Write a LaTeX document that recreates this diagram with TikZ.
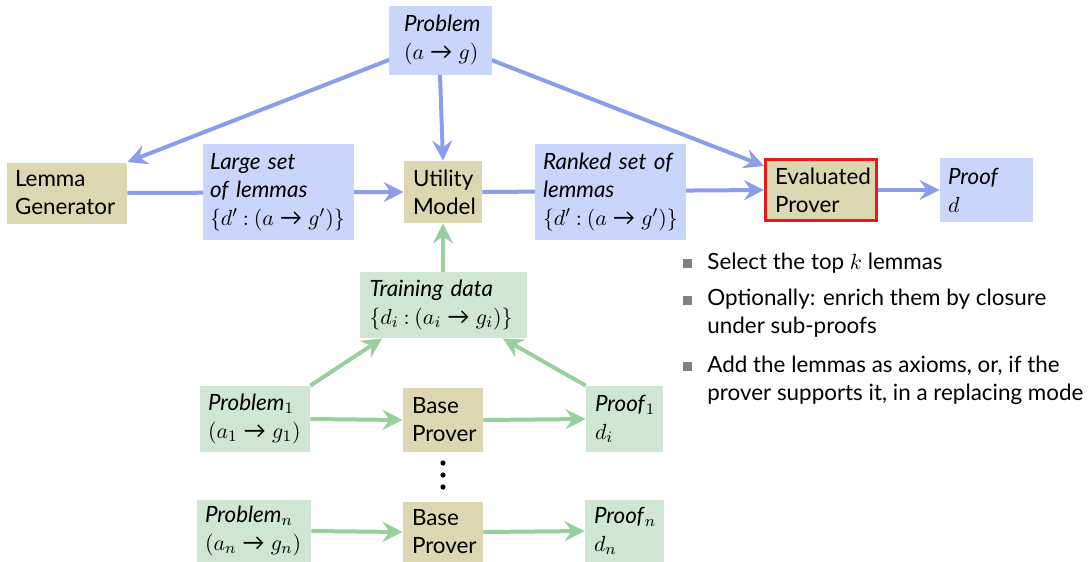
\documentclass[tikz,border=0pt]{standalone}
\usepackage{fontspec}
\setmainfont{Lato}
\usetikzlibrary{arrows.meta,backgrounds,positioning}
\definecolor{bfill}{HTML}{C9D5FA}
\definecolor{barrow}{HTML}{8C9DEB}
\definecolor{gfill}{HTML}{CFE6D3}
\definecolor{garrow}{HTML}{98CF9C}
\definecolor{kfill}{HTML}{DCD7B0}
\definecolor{redb}{HTML}{E51A1A}
\definecolor{bulletc}{HTML}{808080}
\newcommand{\toar}{\mathrel{\mbox{→}}}
\begin{document}
\begin{tikzpicture}[x=0.5pt,y=-0.5pt,
  box/.style={rectangle, inner sep=0pt, align=left, font=\fontsize{11.2}{14}\selectfont},
  bluebox/.style={box, fill=bfill},
  greenbox/.style={box, fill=gfill},
  khakibox/.style={box, fill=kfill},
  barr/.style={draw=barrow, line width=2pt, -{Stealth[length=10pt,width=10pt,inset=3.5pt]}},
  garr/.style={draw=garrow, line width=2pt, -{Stealth[length=10pt,width=10pt,inset=3.5pt]}},
  bsq/.style={rectangle, fill=bulletc, minimum size=4.5pt, inner sep=0pt},
  btext/.style={anchor=west, inner sep=0pt, align=left, font=\fontsize{11.2}{14}\selectfont},
  vdot/.style={circle, fill=black, minimum size=2.6pt, inner sep=0pt}
]
\useasboundingbox (0,0) rectangle (1092,562);
% top row
\node[bluebox, minimum width=51.5pt, minimum height=34.5pt, text width=36pt] (P) at (440,40) {\textit{Problem}\\\mbox{$(a\toar g)$}};
\node[khakibox, minimum width=60pt, minimum height=30.5pt, text width=52pt] (LG) at (67,193) {Lemma\\Generator};
\node[bluebox, minimum width=75.5pt, minimum height=48pt, text width=68.5pt] (LS) at (278.5,192) {\textit{Large set}\\\textit{of lemmas}\\\mbox{$\{d'\mathbin{:}(a\toar g')\}$}};
\node[khakibox, minimum width=39pt, minimum height=31pt, text width=30pt] (UM) at (443,192) {Utility\\Model};
\node[bluebox, minimum width=75.5pt, minimum height=48pt, text width=67.5pt] (RS) at (610.5,192) {\textit{Ranked set of}\\\textit{lemmas}\\\mbox{$\{d'\mathbin{:}(a\toar g')\}$}};
\node[khakibox, draw=redb, line width=1.5pt, minimum width=55.5pt, minimum height=30.5pt, text width=46pt] (EP) at (821,190) {Evaluated\\Prover};
\node[bluebox, minimum width=46.5pt, minimum height=32pt, text width=38.5pt] (PR) at (986.5,190) {\textit{Proof}\\$d$};
% training
\node[greenbox, minimum width=83.5pt, minimum height=33pt, text width=73.5pt] (TD) at (443,305) {\textit{Training data}\\\mbox{$\{d_i\mathbin{:}(a_i\toar g_i)\}$}};
\node[greenbox, minimum width=55pt, minimum height=33pt, text width=47pt] (P1) at (255,419) {\textit{Problem}$_1$\\\mbox{$(a_1\toar g_1)$}};
\node[khakibox, minimum width=40pt, minimum height=32pt, text width=31pt] (BP1) at (443,420) {Base\\Prover};
\node[greenbox, minimum width=38.5pt, minimum height=33pt, text width=29.5pt] (PF1) at (624.5,419) {\textit{Proof}$_1$\\$d_i$};
\node[vdot] (d1) at (443,463) {};
\node[vdot] (d2) at (443,475) {};
\node[vdot] (d3) at (443,487) {};
\node[greenbox, minimum width=57pt, minimum height=31pt, text width=49pt] (Pn) at (254,531) {\textit{Problem}$_n$\\\mbox{$(a_n\toar g_n)$}};
\node[khakibox, minimum width=40pt, minimum height=30pt, text width=31pt] (BPn) at (443,532) {Base\\Prover};
\node[greenbox, minimum width=39.5pt, minimum height=31pt, text width=30.5pt] (PFn) at (624.5,531) {\textit{Proof}$_n$\\$d_n$};
% bullets
\node[bsq] (s1) at (687,263) {};
\node[btext] (t1) at (707,263) {Select the top $k$ lemmas};
\node[bsq] (s2) at (687,300) {};
\node[btext] (t2) at (707,313) {Optionally: enrich them by closure\\under sub-proofs};
\node[bsq] (s3) at (687,366) {};
\node[btext] (t3) at (707,380) {Add the lemmas as axioms, or, if the\\prover supports it, in a replacing mode};
% connectors
\begin{pgfonlayer}{background}
\draw[barr] (P.center) -- (LG.north east);
\draw[barr] (P.south) -- (UM.north);
\draw[barr] (P.center) -- ([yshift=-4pt]EP.north west);
\draw[barr] (LG.east) -- (UM.west);
\draw[barr] (UM.east) -- (EP.west);
\draw[barr] (EP.east) -- (PR.west);
\draw[garr] (TD.north) -- (UM.south);
\draw[garr] (P1.north east) -- ([xshift=11.5pt]TD.south west);
\draw[garr] (PF1.north west) -- ([xshift=-12pt]TD.south east);
\draw[garr] (P1.east) -- (BP1.west);
\draw[garr] (BP1.east) -- (PF1.west);
\draw[garr] (Pn.east) -- (BPn.west);
\draw[garr] (BPn.east) -- (PFn.west);
\end{pgfonlayer}
\end{tikzpicture}
\end{document}
